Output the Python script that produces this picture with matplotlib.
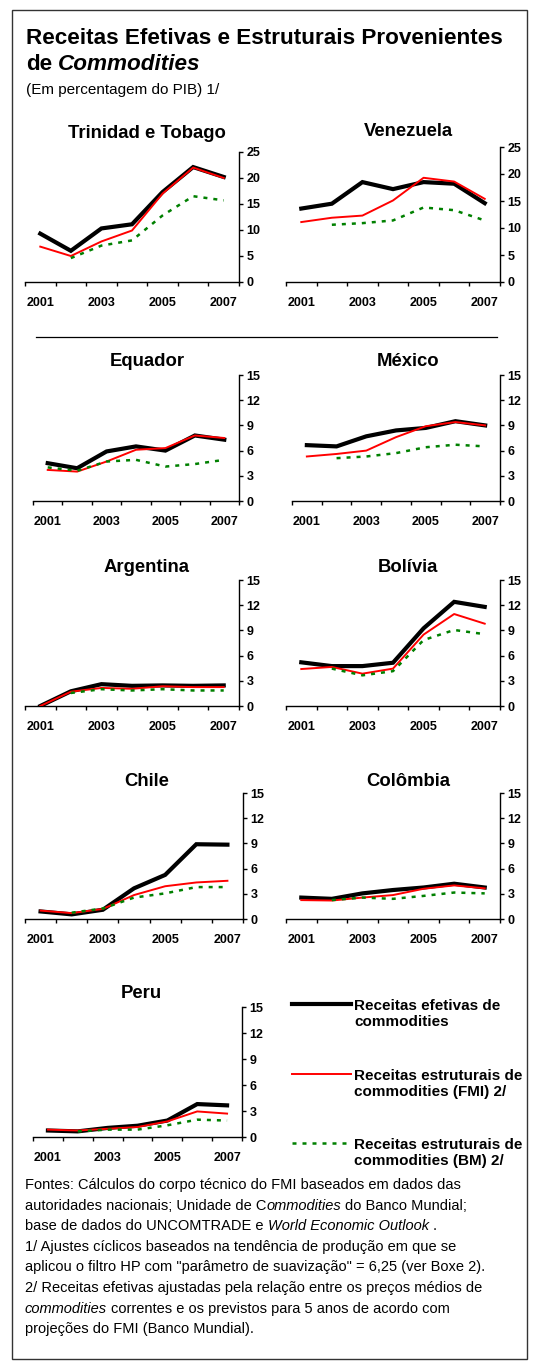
import numpy as np
import matplotlib
matplotlib.use("Agg")
import matplotlib.pyplot as plt
from matplotlib.lines import Line2D
from matplotlib.patches import Rectangle

plt.rcParams['font.family'] = ['Liberation Sans', 'DejaVu Sans']

# ---- data (percent of GDP) ----
years = ["2001", "2002", "2003", "2004", "2005", "2006", "2007"]
year_labels = ["2001", "2003", "2005", "2007"]

trinidad_efetivas = [9.3, 6.0, 10.3, 11.1, 17.3, 22.1, 20.2]
trinidad_fmi = [6.8, 5.0, 7.8, 9.9, 17.0, 22.0, 20.0]
trinidad_bm = [None, 4.6, 7.0, 8.0, 12.8, 16.5, 15.7]

venezuela_efetivas = [13.6, 14.5, 18.5, 17.2, 18.5, 18.2, 14.6]
venezuela_fmi = [11.1, 11.9, 12.3, 15.1, 19.3, 18.6, 15.4]
venezuela_bm = [None, 10.6, 10.9, 11.4, 13.8, 13.3, 11.4]

equador_efetivas = [4.5, 3.9, 5.9, 6.5, 6.0, 7.8, 7.3]
equador_fmi = [3.7, 3.5, 4.7, 6.1, 6.3, 7.8, 7.5]
equador_bm = [4.0, 3.6, 4.7, 4.9, 4.1, 4.4, 4.9]

mexico_efetivas = [6.65, 6.5, 7.7, 8.4, 8.7, 9.5, 9.0]
mexico_fmi = [5.3, 5.6, 6.0, 7.6, 8.9, 9.4, 9.0]
mexico_bm = [None, 5.1, 5.3, 5.7, 6.4, 6.7, 6.5]

argentina_efetivas = [0.0, 1.75, 2.6, 2.4, 2.45, 2.4, 2.45]
argentina_fmi = [0.0, 1.7, 2.15, 2.05, 2.35, 2.25, 2.25]
argentina_bm = [None, 1.55, 2.0, 1.85, 2.0, 1.85, 1.85]

bolivia_efetivas = [5.2, 4.75, 4.75, 5.15, 9.25, 12.4, 11.8]
bolivia_fmi = [4.4, 4.65, 3.85, 4.45, 8.5, 10.95, 9.8]
bolivia_bm = [None, 4.45, 3.65, 4.15, 7.85, 9.05, 8.55]

chile_efetivas = [0.9, 0.55, 1.1, 3.65, 5.25, 8.9, 8.85]
chile_fmi = [1.0, 0.7, 1.2, 2.85, 3.9, 4.35, 4.55]
chile_bm = [None, 0.75, 1.25, 2.55, 3.05, 3.8, 3.8]

colombia_efetivas = [2.55, 2.4, 3.05, 3.45, 3.75, 4.2, 3.75]
colombia_fmi = [2.25, 2.2, 2.55, 2.85, 3.6, 4.0, 3.65]
colombia_bm = [None, 2.25, 2.55, 2.4, 2.75, 3.15, 3.05]

peru_efetivas = [0.75, 0.65, 1.05, 1.3, 1.9, 3.8, 3.65]
peru_fmi = [0.85, 0.75, 0.95, 1.15, 1.8, 2.95, 2.7]
peru_bm = [None, 0.65, 0.85, 0.85, 1.35, 2.0, 1.9]

series_names = ["Receitas efetivas de\ncommodities",
                "Receitas estruturais de\ncommodities (FMI) 2/",
                "Receitas estruturais de\ncommodities (BM) 2/"]

# ---- figure ----
W, H = 537, 1366
fig = plt.figure(figsize=(W / 100, H / 100), dpi=100)


def fx(px):
    return px / W


def fy(py):
    return 1 - py / H


BLACK = "#000000"
RED = "#ff0000"
GREEN = "#008000"
BM_DASH = (1.6, 2.4)


def panel(name, eff, fmi, bm, x0, x1, ybot, ytop, ymax, step, tx, ty):
    ax = fig.add_axes([fx(x0), fy(ybot), fx(x1 - x0), (ybot - ytop) / H])
    xs = np.arange(len(years))
    ax.plot(xs, eff, color=BLACK, lw=3.0, solid_joinstyle="miter", zorder=3)
    ax.plot(xs, fmi, color=RED, lw=1.4, zorder=4)
    bm_arr = np.array([np.nan if v is None else v for v in bm], dtype=float)
    ax.plot(xs, bm_arr, color=GREEN, lw=1.8, dashes=BM_DASH, zorder=5)
    ax.set_xlim(-0.5, len(years) - 0.5)
    ax.set_ylim(0, ymax)
    for s in ("top", "left"):
        ax.spines[s].set_visible(False)
    for s in ("right", "bottom"):
        ax.spines[s].set_linewidth(1.0)
    ax.yaxis.tick_right()
    ax.set_yticks(np.arange(0, ymax + 0.1, step))
    ax.set_yticklabels([f"{int(v)}" for v in np.arange(0, ymax + 0.1, step)],
                       fontsize=9, fontweight="bold")
    ax.tick_params(axis="y", direction="out", length=3, width=1.0, pad=2.5)
    ax.set_xticks(np.arange(-0.5, len(years), 1.0))
    ax.set_xticklabels([])
    ax.tick_params(axis="x", which="major", direction="out", length=3, width=1.0)
    ax.set_xticks([years.index(y) for y in year_labels], minor=True)
    ax.set_xticklabels(year_labels, minor=True, fontsize=9, fontweight="bold")
    ax.tick_params(axis="x", which="minor", length=0, pad=11)
    ax.patch.set_alpha(0)
    fig.text(fx(tx), fy(ty), name, ha="center", va="center",
             fontsize=13.3, fontweight="bold")
    return ax


panel("Trinidad e Tobago", trinidad_efetivas, trinidad_fmi, trinidad_bm,
      25, 239, 282, 152, 25, 5, 147, 133)
panel("Venezuela", venezuela_efetivas, venezuela_fmi, venezuela_bm,
      286, 500, 282, 147, 25, 5, 408, 132)
panel("Equador", equador_efetivas, equador_fmi, equador_bm,
      33, 239, 501, 375, 15, 3, 147, 362)
panel("México", mexico_efetivas, mexico_fmi, mexico_bm,
      292, 500, 501, 375, 15, 3, 408, 362)
panel("Argentina", argentina_efetivas, argentina_fmi, argentina_bm,
      25, 239, 706, 580, 15, 3, 147, 568)
panel("Bolívia", bolivia_efetivas, bolivia_fmi, bolivia_bm,
      286, 500, 706, 580, 15, 3, 408, 568)
panel("Chile", chile_efetivas, chile_fmi, chile_bm,
      25, 243, 919, 793, 15, 3, 147, 781)
panel("Colômbia", colombia_efetivas, colombia_fmi, colombia_bm,
      286, 500, 919, 793, 15, 3, 408, 781)
panel("Peru", peru_efetivas, peru_fmi, peru_bm,
      33, 242, 1137, 1007, 15, 3, 141, 993)

# ---- outer frame and separator ----
fig.add_artist(Rectangle((fx(12), fy(1359)), fx(527 - 12), (1359 - 10) / H,
                         transform=fig.transFigure, fill=False,
                         edgecolor="#333333", lw=1.0))
fig.add_artist(Line2D([fx(36), fx(497)], [fy(337), fy(337)],
                      color=BLACK, lw=0.9))

# ---- legend ----
legend_specs = [(BLACK, 3.0, None, 1004), (RED, 1.4, None, 1074),
                (GREEN, 1.8, BM_DASH, 1143)]
for (col, lw, dash, ly), label in zip(legend_specs, series_names):
    ln = Line2D([fx(292), fx(351)], [fy(ly), fy(ly)], color=col, lw=lw)
    if dash:
        ln.set_dashes(dash)
    fig.add_artist(ln)
    fig.text(fx(354), fy(ly - 5), label, ha="left", va="top",
             fontsize=11, fontweight="bold", linespacing=1.15)

# ---- title ----
renderer = fig.canvas.get_renderer()


def rich_line(x_px, y_px, parts, size, weight="normal"):
    """Draw a line made of (text, style, space_before) pieces."""
    space_w = None
    x = x_px
    for txt, style, space_before in parts:
        if space_before:
            if space_w is None:
                a = fig.text(0, 0, "a a", fontsize=size, fontweight=weight)
                b = fig.text(0, 0, "aa", fontsize=size, fontweight=weight)
                space_w = (a.get_window_extent(renderer).width
                           - b.get_window_extent(renderer).width)
                a.remove()
                b.remove()
            x += space_w
        t = fig.text(fx(x), fy(y_px), txt, fontsize=size, style=style,
                     fontweight=weight, ha="left", va="baseline")
        x += t.get_window_extent(renderer).width


rich_line(26, 44, [("Receitas Efetivas e Estruturais Provenientes", "normal", False)],
          16.2, "bold")
rich_line(26, 70, [("de", "normal", False), ("Commodities", "italic", True)],
          16.2, "bold")
rich_line(26, 94, [("(Em percentagem do PIB) 1/", "normal", False)], 11)

# ---- notes ----
note_size = 10.5
notes = [
    [("Fontes: Cálculos do corpo técnico do FMI baseados em dados das", "normal", False)],
    [("autoridades nacionais; Unidade de C", "normal", False),
     ("ommodities", "italic", False), ("do Banco Mundial;", "normal", True)],
    [("base de dados do UNCOMTRADE e", "normal", False),
     ("World Economic Outlook", "italic", True), (".", "normal", True)],
    [("1/ Ajustes cíclicos baseados na tendência de produção em que se", "normal", False)],
    [("aplicou o filtro HP com \"parâmetro de suavização\" = 6,25 (ver Boxe 2).", "normal", False)],
    [("2/ Receitas efetivas ajustadas pela relação entre os preços médios de", "normal", False)],
    [("commodities", "italic", False),
     ("correntes e os previstos para 5 anos de acordo com", "normal", True)],
    [("projeções do FMI (Banco Mundial).", "normal", False)],
]
for i, parts in enumerate(notes):
    rich_line(25, 1189 + i * 20.6, parts, note_size)

fig.savefig("out.png", dpi=100, facecolor="white")
